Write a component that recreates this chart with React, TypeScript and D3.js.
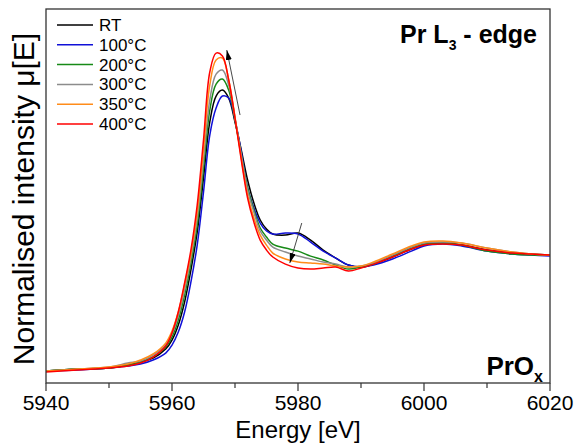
import React from "react";
import * as d3 from "d3";

// photon energy grid (eV)
const energy = [
  5940, 5945, 5950, 5953, 5955, 5957, 5959, 5960, 5961, 5962, 5963, 5964, 5965, 5966, 5967, 5968,
  5969, 5970, 5971, 5972, 5973, 5974, 5975, 5976, 5978, 5980, 5982, 5984, 5986, 5988, 5990, 5992,
  5995, 5998, 6000, 6003, 6006, 6010, 6014, 6017, 6020,
];

// normalised absorption per temperature
const muRT = [
  0, 0.017, 0.026, 0.052, 0.078, 0.112, 0.19, 0.267, 0.397, 0.595, 0.871, 1.198, 1.664, 2.147, 2.371, 2.422,
  2.353, 2.147, 1.905, 1.647, 1.448, 1.302, 1.224, 1.181, 1.172, 1.19, 1.129, 1.043, 0.974, 0.914, 0.897, 0.922,
  0.983, 1.052, 1.086, 1.103, 1.086, 1.043, 1.017, 1.009, 1.0,
];
const mu100 = [
  0, 0.009, 0.026, 0.043, 0.06, 0.095, 0.155, 0.224, 0.336, 0.509, 0.767, 1.086, 1.543, 2.034, 2.267, 2.371,
  2.353, 2.164, 1.888, 1.578, 1.405, 1.276, 1.207, 1.181, 1.19, 1.181, 1.112, 1.034, 0.974, 0.914, 0.897, 0.914,
  0.966, 1.034, 1.078, 1.095, 1.078, 1.034, 1.009, 1.0, 0.991,
];
const mu200 = [
  0, 0.017, 0.026, 0.052, 0.078, 0.121, 0.207, 0.293, 0.44, 0.655, 0.931, 1.259, 1.75, 2.25, 2.474, 2.517,
  2.422, 2.164, 1.862, 1.578, 1.388, 1.233, 1.155, 1.095, 1.06, 1.034, 0.991, 0.957, 0.914, 0.879, 0.897, 0.922,
  0.991, 1.06, 1.095, 1.103, 1.086, 1.034, 1.009, 1.0, 1.0,
];
const mu300 = [
  0, 0.017, 0.034, 0.069, 0.086, 0.138, 0.224, 0.319, 0.474, 0.698, 0.974, 1.319, 1.819, 2.336, 2.56, 2.595,
  2.466, 2.181, 1.862, 1.56, 1.371, 1.207, 1.129, 1.069, 1.026, 0.991, 0.966, 0.94, 0.922, 0.897, 0.905, 0.931,
  1.0, 1.069, 1.103, 1.112, 1.103, 1.06, 1.026, 1.009, 1.0,
];
const mu350 = [
  0, 0.017, 0.034, 0.06, 0.095, 0.147, 0.241, 0.345, 0.509, 0.741, 1.009, 1.371, 1.905, 2.466, 2.681, 2.698,
  2.509, 2.19, 1.836, 1.517, 1.319, 1.172, 1.086, 1.017, 0.966, 0.94, 0.931, 0.922, 0.905, 0.897, 0.905, 0.94,
  1.009, 1.078, 1.112, 1.121, 1.103, 1.06, 1.026, 1.009, 1.0,
];
const mu400 = [
  -0.009, 0.009, 0.026, 0.043, 0.069, 0.121, 0.216, 0.328, 0.509, 0.759, 1.043, 1.431, 1.991, 2.578, 2.741, 2.716,
  2.509, 2.181, 1.819, 1.491, 1.284, 1.129, 1.043, 0.983, 0.922, 0.888, 0.879, 0.888, 0.897, 0.862, 0.888, 0.922,
  0.983, 1.052, 1.086, 1.095, 1.086, 1.043, 1.017, 1.009, 1.0,
];

const labels = ["RT", "100°C", "200°C", "300°C", "350°C", "400°C"];
const colors = ["#000000", "#1010d8", "#178a17", "#8c8c8c", "#ff8c1a", "#ff0000"];
const curves = [muRT, mu100, mu200, mu300, mu350, mu400];

const majorTicks = [5940, 5960, 5980, 6000, 6020];
const minorTicks = [5950, 5970, 5990, 6010];

// arrows: [from, to] in (eV, mu)
const arrowPeak = [[5970.8, 2.207], [5968.7, 2.767]];
const arrowShoulder = [[5980.6, 1.276], [5978.7, 0.931]];

const W = 576, H = 445;
const margin = { top: 9, right: 26, bottom: 62, left: 46 };

export default function App() {
  const x = d3.scaleLinear().domain([5940, 6020]).range([margin.left, W - margin.right]);
  const y = d3.scaleLinear().domain([-0.103, 3.121]).range([H - margin.bottom, margin.top]);

  const line = d3
    .line<number>()
    .x((_, i) => x(energy[i]))
    .y((d) => y(d))
    .curve(d3.curveCatmullRom.alpha(0.5));

  const x0 = margin.left, x1 = W - margin.right;
  const y0 = H - margin.bottom, y1 = margin.top;
  const font = "'Liberation Sans', Arial, sans-serif";

  const arrow = (a: number[][], key: string) => (
    <line
      key={key}
      x1={x(a[0][0])}
      y1={y(a[0][1])}
      x2={x(a[1][0])}
      y2={y(a[1][1])}
      stroke="#333"
      strokeWidth={0.9}
      markerEnd="url(#head)"
    />
  );

  return (
    <svg width={W} height={H} style={{ position: "absolute", left: 0, top: 0, background: "#fff" }} fontFamily={font}>
      <defs>
        <marker id="head" viewBox="0 0 10 6" refX="10" refY="3" markerWidth="10" markerHeight="6" markerUnits="userSpaceOnUse" orient="auto">
          <path d="M0,0 L10,3 L0,6 Z" fill="#000" />
        </marker>
      </defs>

      {curves.map((c, i) => (
        <path key={labels[i]} d={line(c) || ""} fill="none" stroke={colors[i]} strokeWidth={1.5} />
      ))}

      {arrow(arrowPeak, "a1")}
      {arrow(arrowShoulder, "a2")}

      {/* frame */}
      <rect x={x0} y={y1} width={x1 - x0} height={y0 - y1} fill="none" stroke="#333" strokeWidth={1.3} />

      {/* x ticks */}
      {majorTicks.map((t) => (
        <g key={t}>
          <line x1={x(t)} x2={x(t)} y1={y0} y2={y0 + 8} stroke="#333" strokeWidth={1.2} />
          <text x={x(t)} y={410} textAnchor="middle" fontSize={21} fill="#000">
            {t}
          </text>
        </g>
      ))}
      {minorTicks.map((t) => (
        <line key={t} x1={x(t)} x2={x(t)} y1={y0} y2={y0 + 5} stroke="#333" strokeWidth={1.2} />
      ))}

      <text x={(x0 + x1) / 2} y={438} textAnchor="middle" fontSize={24} fill="#000">
        Energy [eV]
      </text>
      <text transform={`translate(34, ${(y0 + y1) / 2 + 3}) rotate(-90)`} textAnchor="middle" fontSize={30} fill="#000">
        Normalised intensity μ[E]
      </text>

      {/* legend */}
      {labels.map((l, i) => (
        <g key={l} transform={`translate(0, ${25 + i * 19.8})`}>
          <line x1={57} x2={93} y1={0} y2={0} stroke={colors[i]} strokeWidth={1.5} />
          <text x={99} y={6} fontSize={17} fill="#000">
            {l}
          </text>
        </g>
      ))}

      <text x={537} y={43} textAnchor="end" fontSize={25} fontWeight="bold" fill="#000">
        Pr L<tspan fontSize={14} dy={7}>3</tspan>
        <tspan dy={-7}> - edge</tspan>
      </text>
      <text x={543} y={375} textAnchor="end" fontSize={26} fontWeight="bold" fill="#000">
        PrO<tspan fontSize={16} dy={7}>x</tspan>
      </text>
    </svg>
  );
}
